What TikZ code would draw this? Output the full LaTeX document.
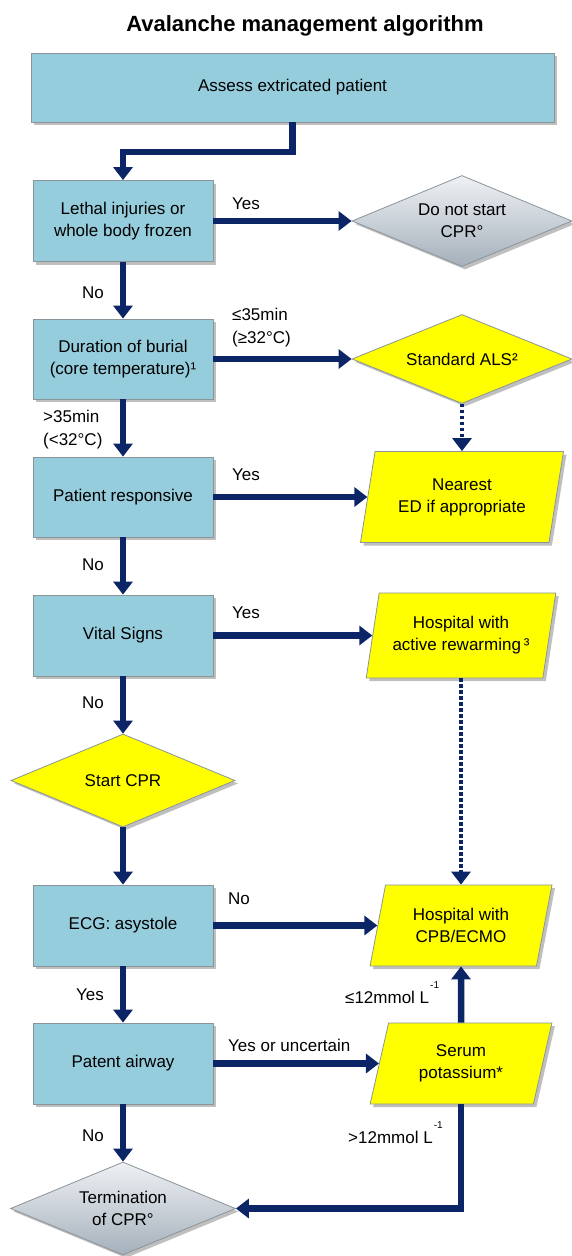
\documentclass[tikz,border=0pt]{standalone}
\usepackage{fontspec}
\setmainfont{Liberation Sans}
\usetikzlibrary{shapes.geometric,arrows.meta,shadows}

\definecolor{boxblue}{HTML}{95CDDC}
\definecolor{navy}{HTML}{0B2566}
\definecolor{edgegray}{HTML}{8A9499}
\definecolor{ylw}{HTML}{FFFF00}
\definecolor{gtop}{HTML}{EEF1F4}
\definecolor{gbot}{HTML}{A5B0BB}

\begin{document}
\begin{tikzpicture}[x=1pt,y=-1pt,
  txt/.style={font=\fontsize{17}{22}\selectfont, align=center},
  shad/.style={drop shadow={shadow xshift=3pt, shadow yshift=-3pt, fill=black, opacity=0.25}},
  bluebox/.style={txt, rectangle, draw=edgegray, line width=0.8pt, fill=boxblue, minimum width=180pt, minimum height=81pt, inner sep=2pt, shad},
  ydiam/.style={txt, diamond, shape aspect=2.4, draw=edgegray, line width=0.8pt, fill=ylw, inner sep=0pt, shad},
  gdiam/.style={txt, diamond, shape aspect=2.4, draw=edgegray, line width=0.8pt, top color=gtop, bottom color=gbot, inner sep=0pt, shad},
  para/.style={txt, trapezium, trapezium left angle=74, trapezium right angle=106, trapezium stretches=true, draw=edgegray, line width=0.8pt, fill=ylw, inner sep=0pt, shad},
  arr/.style={draw=navy, line width=6.5pt, -{Triangle[length=13pt,width=19pt]}},
  dotarr/.style={draw=navy, line width=4pt, dash pattern=on 3.5pt off 2.5pt, -{Triangle[length=13pt,width=19pt]}},
  lab/.style={font=\fontsize{17}{22}\selectfont, anchor=base west, inner sep=0pt},
]
\path[use as bounding box] (0,0) rectangle (572,1256);

% title
\node[anchor=base] (title) at (305,31) {\fontsize{22}{26}\selectfont\bfseries Avalanche management algorithm};

% left column boxes
\node[bluebox, minimum width=523pt, minimum height=69pt] (A) at (292.5,87.5) {Assess extricated patient};
\node[bluebox] (L) at (123,221) {Lethal injuries or\\whole body frozen};
\node[bluebox, minimum height=80pt] (Dur) at (123,359) {Duration of burial\\(core temperature)¹};
\node[bluebox, minimum height=80pt] (Resp) at (123,497) {Patient responsive};
\node[bluebox] (Vit) at (123,635.5) {Vital Signs};
\node[ydiam, minimum width=224pt, minimum height=93pt] (D3) at (123,780.5) {Start CPR};
\node[bluebox] (ECG) at (123,925.5) {ECG: asystole};
\node[bluebox] (Air) at (123,1063.5) {Patent airway};
\node[gdiam, minimum width=225pt, minimum height=93pt] (D4) at (123,1208.5) {Termination\\of CPR°};

% right column
\node[gdiam, minimum width=220pt, minimum height=91pt] (D1) at (462,221) {Do not start\\CPR°};
\node[ydiam, minimum width=220pt, minimum height=89pt] (D2) at (462,359) {Standard ALS²};
\node[para, minimum width=203pt, minimum height=91pt] (P1) at (462,497) {Nearest\\ED if appropriate};
\node[para, minimum width=190pt, minimum height=85pt] (P2) at (461,635.5) {Hospital with\\active rewarming\,³};
\node[para, minimum width=182pt, minimum height=81pt] (P3) at (461,925.5) {Hospital with\\CPB/ECMO};
\node[para, minimum width=182pt, minimum height=81pt] (P4) at (461,1063.5) {Serum\\potassium*};

% connectors
\coordinate (bend) at (123,152);
\draw[arr] (A.south) -- (A.south |- bend) -| (L.north);
\draw[arr] (L.east) -- (D1.west);
\draw[arr] (L.south) -- (Dur.north);
\draw[arr] (Dur.east) -- (D2.west);
\draw[dotarr] (D2.south) -- (D2.south |- P1.north);
\draw[arr] (Dur.south) -- (Resp.north);
\draw[arr] (Resp.east) -- (Resp.east -| P1.left side);
\draw[arr] (Resp.south) -- (Vit.north);
\draw[arr] (Vit.east) -- (Vit.east -| P2.left side);
\draw[arr] (Vit.south) -- (D3.north);
\draw[dotarr] (P2.south) -- (P2.south |- P3.north);
\draw[arr] (D3.south) -- (ECG.north);
\draw[arr] (ECG.east) -- (ECG.east -| P3.left side);
\draw[arr] (ECG.south) -- (Air.north);
\draw[arr] (Air.east) -- (Air.east -| P4.left side);
\draw[arr] (P4.north) -- (P3.south);
\draw[arr] (P4.south) -- (P4.south |- D4.east) -- (D4.east);
\draw[arr] (Air.south) -- (D4.north);

% labels
\node[lab] (yes1) at (232,209.5) {Yes};
\node[lab] (no1) at (82,298.5) {No};
\node[lab] (c35a) at (232,320.5) {≤35min};
\node[lab] (c35b) at (232,343.5) {(≥32°C)};
\node[lab] (g35a) at (43,422.5) {>35min};
\node[lab] (g35b) at (43,445.5) {(<32°C)};
\node[lab] (yes2) at (232,480.5) {Yes};
\node[lab] (no2) at (82,570.5) {No};
\node[lab] (yes3) at (232,618.5) {Yes};
\node[lab] (no3) at (82,708.5) {No};
\node[lab] (no4) at (228,904.5) {No};
\node[lab] (yes4) at (76,1000.5) {Yes};
\node[lab] (yu) at (228,1051.5) {Yes or uncertain};
\node[lab] (le12) at (345,1003.5) {≤12mmol L\kern1pt\raisebox{15pt}{\fontsize{10}{10}\selectfont -1}};
\node[lab] (gt12) at (348,1143.5) {>12mmol L\kern1pt\raisebox{15pt}{\fontsize{10}{10}\selectfont -1}};
\node[lab] (no5) at (82,1141.5) {No};
\end{tikzpicture}
\end{document}
